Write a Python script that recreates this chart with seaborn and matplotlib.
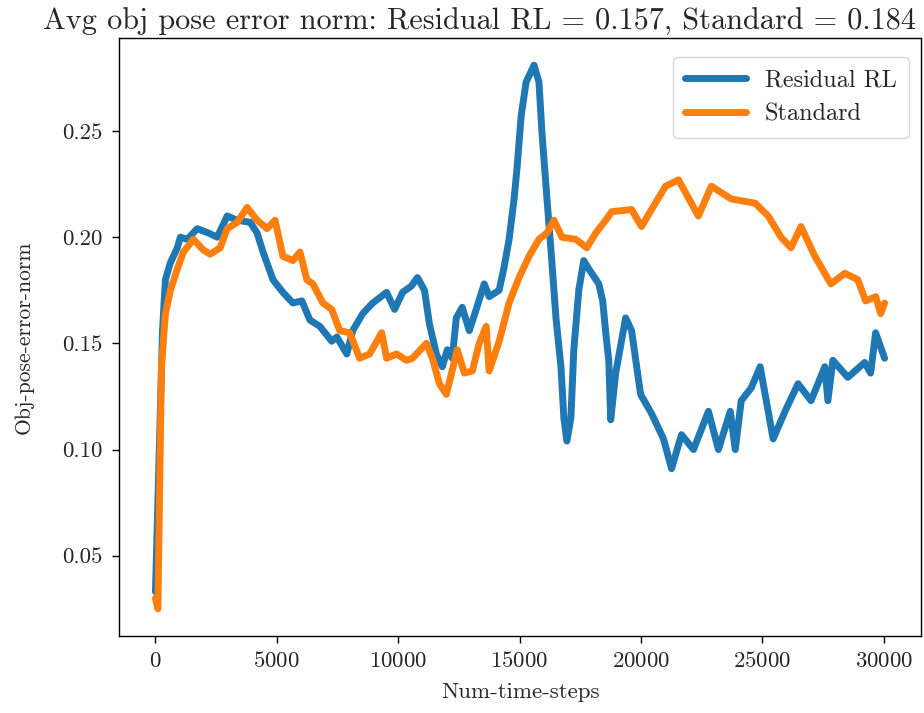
import matplotlib
matplotlib.use("Agg")
import matplotlib.pyplot as plt
import seaborn as sns
import pandas as pd

# Residual RL run: time step and object pose error norm
residual_steps = [0, 290, 410, 615, 900, 1025, 1310, 1720, 2175, 2545, 2955, 3365,
                  3900, 4185, 4430, 4840, 5250, 5660, 6030, 6360, 6770, 7260, 7470,
                  7880, 8125, 8535, 8945, 9520, 9850, 10175, 10540, 10790, 11080,
                  11285, 11570, 11815, 12020, 12225, 12390, 12635, 12925, 13210,
                  13540, 13745, 14155, 14360, 14565, 14770, 14895, 15060, 15265,
                  15590, 15795, 15920, 16125, 16290, 16495, 16700, 16820, 16945,
                  17110, 17230, 17435, 17640, 17850, 18260, 18420, 18545, 18670,
                  18750, 18955, 19365, 19610, 19980, 20430, 20925, 21255, 21665,
                  22160, 22775, 23185, 23675, 23880, 24125, 24535, 24905, 25440,
                  25930, 26465, 27000, 27570, 27695, 27900, 28515, 29210, 29455,
                  29660, 30030]
residual_err = [0.033, 0.156, 0.180, 0.188, 0.195, 0.200, 0.199, 0.204, 0.202, 0.200,
                0.210, 0.208, 0.207, 0.202, 0.193, 0.180, 0.174, 0.169, 0.170, 0.161,
                0.158, 0.151, 0.153, 0.145, 0.156, 0.164, 0.169, 0.174, 0.166, 0.174,
                0.177, 0.181, 0.175, 0.159, 0.145, 0.139, 0.147, 0.143, 0.162, 0.167,
                0.156, 0.166, 0.178, 0.172, 0.175, 0.186, 0.199, 0.218, 0.233, 0.257,
                0.273, 0.281, 0.273, 0.249, 0.218, 0.194, 0.162, 0.139, 0.115, 0.104,
                0.115, 0.147, 0.175, 0.189, 0.185, 0.178, 0.170, 0.155, 0.142, 0.114,
                0.136, 0.162, 0.156, 0.126, 0.117, 0.105, 0.091, 0.107, 0.100, 0.118,
                0.100, 0.118, 0.100, 0.123, 0.129, 0.139, 0.105, 0.118, 0.131, 0.123,
                0.139, 0.123, 0.142, 0.134, 0.141, 0.136, 0.155, 0.143]

# Standard run: time step and object pose error norm
standard_steps = [0, 100, 245, 410, 615, 900, 1150, 1560, 1970, 2255, 2665, 2955,
                  3365, 3775, 4185, 4595, 4925, 5250, 5660, 5950, 6235, 6485, 6895,
                  7260, 7590, 8000, 8410, 8820, 9315, 9520, 9930, 10340, 10585,
                  11160, 11405, 11695, 11980, 12430, 12720, 13050, 13335, 13620,
                  13745, 14155, 14565, 14975, 15385, 15795, 16125, 16410, 16740,
                  17315, 17765, 18135, 18545, 18790, 19610, 20020, 20430, 21010,
                  21540, 21830, 22360, 22895, 23715, 24700, 25235, 25765, 26175,
                  26585, 27160, 27820, 28390, 28925, 29250, 29665, 29870, 30030]
standard_err = [0.030, 0.025, 0.139, 0.164, 0.175, 0.185, 0.193, 0.199, 0.194, 0.192,
                0.195, 0.204, 0.207, 0.214, 0.208, 0.204, 0.208, 0.191, 0.189, 0.193,
                0.180, 0.178, 0.169, 0.166, 0.156, 0.155, 0.143, 0.145, 0.155, 0.143,
                0.145, 0.142, 0.143, 0.150, 0.143, 0.131, 0.126, 0.147, 0.136, 0.137,
                0.150, 0.158, 0.137, 0.151, 0.169, 0.181, 0.191, 0.199, 0.202, 0.208,
                0.200, 0.199, 0.195, 0.202, 0.208, 0.212, 0.213, 0.205, 0.213, 0.224,
                0.227, 0.221, 0.210, 0.224, 0.218, 0.216, 0.210, 0.200, 0.195, 0.205,
                0.191, 0.178, 0.183, 0.180, 0.170, 0.172, 0.164, 0.169]

series_names = ["Residual RL", "Standard"]
series_colors = ["#1f77b4", "#ff7f0e"]
avg_errors = [0.157, 0.184]

sns.set_style("ticks")
plt.rcParams["font.family"] = ["cmr10", "DejaVu Serif"]
plt.rcParams["mathtext.fontset"] = "cm"
plt.rcParams["axes.formatter.use_mathtext"] = True
plt.rcParams["axes.unicode_minus"] = False

fig = plt.figure(figsize=(9.24, 7.13), dpi=100)
ax = fig.add_axes([0.1288, 0.108, 0.868, 0.8387])

frames = [
    pd.DataFrame({"step": residual_steps, "err": residual_err}),
    pd.DataFrame({"step": standard_steps, "err": standard_err}),
]
for df, name, color in zip(frames, series_names, series_colors):
    sns.lineplot(data=df, x="step", y="err", ax=ax, color=color, label=name,
                 linewidth=5, estimator=None, sort=False)

for side in ["top", "right", "left", "bottom"]:
    ax.spines[side].set_linewidth(1.0)
    ax.spines[side].set_color("black")

ax.set_xticks([0, 5000, 10000, 15000, 20000, 25000, 30000])
ax.set_yticks([0.05, 0.10, 0.15, 0.20, 0.25])
ax.set_yticklabels(["0.05", "0.10", "0.15", "0.20", "0.25"])
ax.tick_params(labelsize=16.5, direction="out", length=5, width=1, color="black")
ax.tick_params(axis="y", pad=7)
ax.tick_params(axis="x", pad=6)
ax.set_xlabel("Num-time-steps", fontsize=16.5, labelpad=8)
ax.set_ylabel("Obj-pose-error-norm", fontsize=15.5, labelpad=20)
ax.set_title(f"Avg obj pose error norm: {series_names[0]} = {avg_errors[0]:.3f}, "
             f"{series_names[1]} = {avg_errors[1]:.3f}", fontsize=21.8, x=0.45)

leg = ax.legend(loc="upper right", bbox_to_anchor=(1.0, 0.988), fontsize=17.5,
                frameon=True, handlelength=2.5, borderpad=0.5, labelspacing=0.5)
leg.get_frame().set_edgecolor("0.8")

fig.savefig("out.png", dpi=100)
